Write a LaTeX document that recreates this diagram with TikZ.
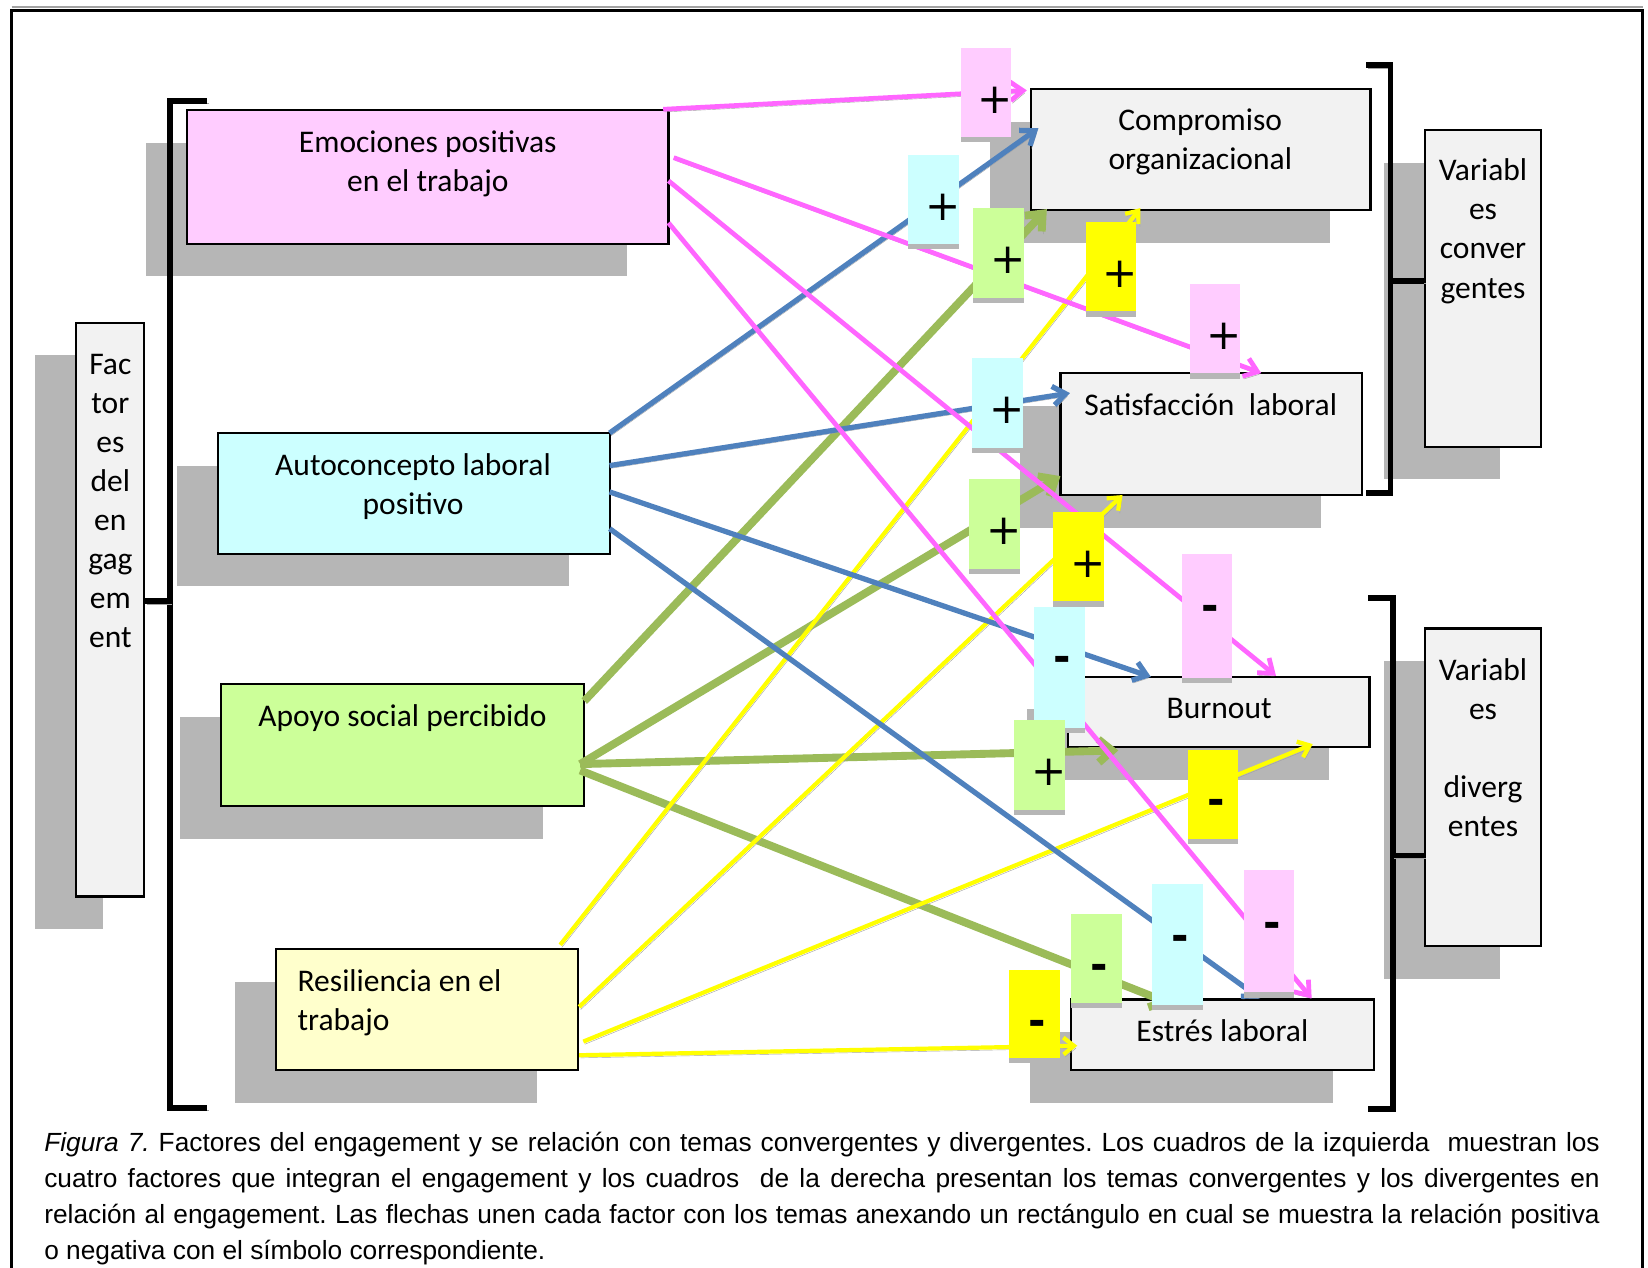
\documentclass[tikz,border=0pt]{standalone}
\usepackage{fontspec}
\setmainfont{Carlito}
\newfontfamily\capfont{Liberation Sans}
\newfontfamily\symfont{DejaVu Sans}
\frenchspacing
\usetikzlibrary{arrows.meta,shadows,calc}
\definecolor{pinkF}{HTML}{FFCCFF}
\definecolor{cyanF}{HTML}{CCFFFF}
\definecolor{greenF}{HTML}{CCFF99}
\definecolor{yelF}{HTML}{FFFFCC}
\definecolor{yelL}{HTML}{FFFF00}
\definecolor{greyF}{HTML}{F2F2F2}
\definecolor{shad}{HTML}{B6B6B6}
\definecolor{lshad}{HTML}{A2A2A2}
\definecolor{pinkA}{HTML}{FF66FF}
\definecolor{blueA}{HTML}{4F81BD}
\definecolor{greenA}{HTML}{9BBB59}
\definecolor{yelA}{HTML}{FFFF00}
\tikzset{
  bx/.style={draw=black, line width=2pt, inner sep=0pt,
    drop shadow={shadow xshift=-39pt, shadow yshift=-31pt, fill=shad, opacity=1, draw=none}},
  txt/.style={font=\fontsize{30}{37.2}\selectfont, inner sep=0pt, align=center, anchor=base},
  lab/.style={inner sep=0pt, minimum width=48pt, anchor=north west,
    drop shadow={shadow xshift=0pt, shadow yshift=-5pt, fill=shad, opacity=1, draw=none}},
  symb/.style={font=\symfont\fontsize{40}{40}\selectfont, inner sep=0pt},
  conn/.style={preaction={draw=lshad, transform canvas={xshift=1.5pt, yshift=-2.5pt}}},
  parr/.style={conn, draw=pinkA, line width=4.5pt, -{Straight Barb[length=12pt,width=18pt]}},
  barr/.style={conn, draw=blueA, line width=5pt, -{Straight Barb[length=12pt,width=18pt]}},
  garr/.style={conn, draw=greenA, line width=7.5pt, -{Straight Barb[length=13pt,width=22pt]}},
  yarr/.style={conn, draw=yelA, line width=4pt, -{Straight Barb[length=10pt,width=16pt]}},
  brk/.style={conn, draw=black, line width=5.5pt},
}
\newcommand\lbl[6]{%
  \node[lab, fill=#2, minimum height=#5pt] (#1) at (#3,#4) {};
  \coordinate (#1s) at ($(#1.north west)+(#6)$);}
\begin{document}
\begin{tikzpicture}[x=1pt,y=-1pt]
\useasboundingbox (0,0) rectangle (1568,1206);
\fill[white] (0,0) rectangle (1568,1206);
% frame
\draw[lshad, line width=1.5pt] (11,6.5) -- (1563,6.5);
\draw[line width=3pt] (11,1215) -- (11,10) -- (1563,10) -- (1563,1215);

% boxes
\node[bx, fill=pinkF, minimum width=458pt, minimum height=127pt] (emo) at (407,168.5) {};
\node[bx, fill=cyanF, minimum width=373pt, minimum height=115pt] (aut) at (393.5,469.5) {};
\node[bx, fill=greenF, minimum width=346pt, minimum height=116pt] (apo) at (383,709) {};
\node[bx, fill=yelF, minimum width=287pt, minimum height=115pt] (res) at (406.5,960.5) {};
\node[bx, fill=greyF, minimum width=65pt, minimum height=546pt] (fac) at (104.5,580) {};
\node[bx, fill=greyF, minimum width=323pt, minimum height=115pt] (com) at (1142.5,142.5) {};
\node[bx, fill=greyF, minimum width=287pt, minimum height=116pt] (sat) at (1152.5,413) {};
\node[bx, fill=greyF, minimum width=287pt, minimum height=67pt] (bur) at (1159.5,677.5) {};
\node[bx, fill=greyF, minimum width=288pt, minimum height=67pt] (est) at (1163,984.5) {};
\node[bx, fill=greyF, minimum width=110pt, minimum height=301pt] (vcon) at (1411,274.5) {};
\node[bx, fill=greyF, minimum width=110pt, minimum height=302pt] (vdiv) at (1411,749) {};

% box texts (anchor base = baseline of the last line)
\node[txt] (emot) at (407,182.2) {Emociones positivas\\en el trabajo};
\node[txt] (autt) at (393,489.2) {Autoconcepto laboral\\positivo};
\node[txt] (apot) at (383,691) {Apoyo social percibido};
\node[txt, anchor=base west, align=left] (rest) at (283,980.2) {Resiliencia en el\\trabajo};
\node[txt] (fact) at (105,616.4) {Fac\\tor\\es\\del\\en\\gag\\em\\ent};
\node[txt] (comt) at (1142,161.2) {Compromiso\\organizacional};
\node[txt] (satt) at (1152,395) {Satisfacción\ \ laboral};
\node[txt] (burt) at (1160,684) {Burnout};
\node[txt] (estt) at (1163,991) {Estrés laboral};
\node[txt] (vcont) at (1411,283.6) {Variabl\\es\\conver\\gentes};
\node[txt] (vdivt) at (1411,795.8) {Variabl\\es\\\mbox{}\\diverg\\entes};

% brackets
\draw[brk] (197,96) -- (162,96) -- (162,1054) -- (197,1054);
\draw[brk] (fac.east |- 0,572) -- (162,572);
\draw[brk] (1300,62) -- (1323,62) -- (1323,469) -- (1300,469);
\draw[brk] (1323,267) -- (vcon.west |- 0,267);
\draw[brk] (1302,569) -- (1325,569) -- (1325,1055) -- (1302,1055);
\draw[brk] (1325,814) -- (vdiv.west |- 0,814);

% connector end points
\coordinate (emoA) at (631,104);
\coordinate (emoB) at (641,150);
\coordinate (emoC) at (636,172);
\coordinate (emoD) at (636,212);
\coordinate (autA) at (580,412);
\coordinate (autB) at (580,443);
\coordinate (autC) at (580,468);
\coordinate (autD) at (580,503);
\coordinate (apoA) at (556,667);
\coordinate (apoB) at (552,727);
\coordinate (apoC) at (552,733);
\coordinate (resA) at (533,899);
\coordinate (resB) at (551,958);
\coordinate (resC) at (555,991);
\coordinate (resD) at (551,1004);
\coordinate (comA) at (977,86);
\coordinate (comB) at (988,122);
\coordinate (comC) at (996,199);
\coordinate (comD) at (1085,198);
\coordinate (satA) at (1200,355);
\coordinate (satB) at (1018,374);
\coordinate (satC) at (1009,453);
\coordinate (satD) at (1068,471);
\coordinate (burA) at (1214,643);
\coordinate (burB) at (1095,644);
\coordinate (burC) at (1064,714);
\coordinate (burD) at (1249,708);
\coordinate (estA) at (1248,950);
\coordinate (estB) at (1199,950);
\coordinate (estC) at (1114,955);
\coordinate (estD) at (1025,995);

% connectors
\draw[garr] (apoA) -- (comC);
\draw[garr] (apoB) -- (satC);
\draw[garr] (apoB) -- (burC);
\draw[garr] (apoC) -- (estC);
\draw[yarr] (resA) -- (comD);
\draw[yarr] (resB) -- (satD);
\draw[yarr] (resC) -- (burD);
\draw[yarr] (resD) -- (estD);
\draw[barr] (autA) -- (comB);
\draw[barr] (autB) -- (satB);
\draw[barr] (autC) -- (burB);
\draw[barr] (autD) -- (estB);
\draw[parr] (emoA) -- (comA);
\draw[parr] (emoB) -- (satA);
\draw[parr] (emoC) -- (burA);
\draw[parr] (emoD) -- (estA);

% sign labels
\lbl{la}{pinkF}{914}{45}{85}{33,50}
\lbl{le}{cyanF}{864}{147}{85}{33,50}
\lbl{li}{greenF}{926}{198}{85}{33,50}
\lbl{lm}{yelL}{1033}{211}{85}{33,50}
\lbl{lb}{pinkF}{1132}{270}{85}{33,50}
\lbl{lf}{cyanF}{925}{340}{86}{33,50}
\lbl{lj}{greenF}{922}{456}{85}{33,50}
\lbl{ln}{yelL}{1002}{487}{85}{33,50}
\lbl{lc}{pinkF}{1124}{527}{118}{27,56}
\lbl{lg}{cyanF}{984}{577}{115}{27,55}
\lbl{lk}{greenF}{965}{685}{85}{33,50}
\lbl{lo}{yelL}{1130}{713}{85}{27,55}
\lbl{ld}{pinkF}{1183}{828}{116}{27,57}
\lbl{lh}{cyanF}{1096}{841}{115}{27,56}
\lbl{ll}{greenF}{1019}{869}{85}{27,56}
\lbl{lp}{yelL}{960}{923}{83}{27,55}
\foreach \n in {la,le,li,lm,lb,lf,lj,ln,lk} \node[symb] (\n t) at (\n s) {+};
\foreach \n in {lc,lg,lo,ld,lh,ll,lp} \node[symb, font=\symfont\bfseries\fontsize{40}{40}\selectfont] (\n t) at (\n s) {-};

% caption (anchor base = baseline of the last line)
\node[anchor=base west, inner sep=0pt, align=left,
  font=\capfont\fontsize{25}{34}\selectfont] (cap) at (42,1198) {%
\makebox[1480pt][s]{\textit{Figura 7.} Factores del engagement y se relación con temas convergentes y divergentes. Los cuadros de la izquierda\ \ muestran los}\\
\makebox[1480pt][s]{cuatro factores que integran el engagement y los cuadros\ \ de la derecha presentan los temas convergentes y los divergentes en}\\
\makebox[1480pt][s]{relación al engagement. Las flechas unen cada factor con los temas anexando un rectángulo en cual se muestra la relación positiva}\\
o negativa con el símbolo correspondiente.};
\end{tikzpicture}
\end{document}
